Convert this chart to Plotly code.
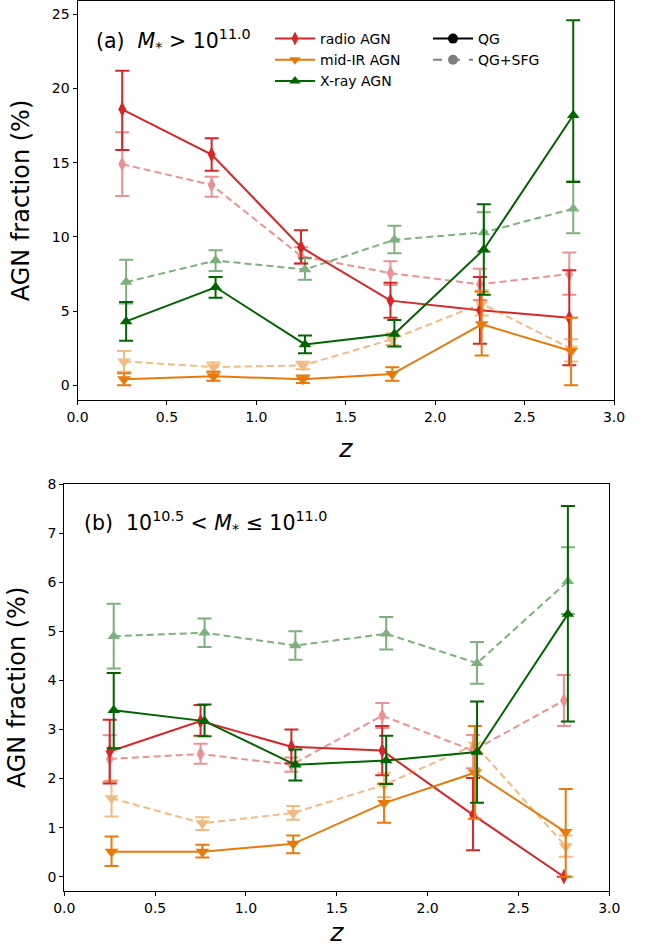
import plotly.graph_objects as go

z_bins = [0.25, 0.75, 1.25, 1.75, 2.25, 2.75]
offsets = {"radio": 0.0, "midir": 0.01, "xray": 0.022}

# ---- panel (a): M* > 10^11.0 ----
a_radio_qg = [18.6, 15.55, 9.3, 5.7, 5.05, 4.55]
a_radio_qg_up = [2.6, 1.1, 1.15, 1.2, 2.25, 3.2]
a_radio_qg_lo = [2.75, 1.1, 1.1, 1.15, 2.25, 3.2]
a_radio_all = [14.9, 13.5, 8.7, 7.55, 6.8, 7.5]
a_radio_all_up = [2.15, 0.55, 0.6, 0.8, 1.05, 1.45]
a_radio_all_lo = [2.15, 0.8, 0.5, 0.8, 1.05, 1.4]

a_mir_qg = [0.4, 0.6, 0.4, 0.75, 4.1, 2.3]
a_mir_qg_up = [0.4, 0.3, 0.25, 0.45, 2.2, 2.25]
a_mir_qg_lo = [0.4, 0.3, 0.25, 0.45, 2.1, 2.3]
a_mir_all = [1.6, 1.22, 1.33, 3.1, 5.5, 2.45]
a_mir_all_up = [0.7, 0.3, 0.25, 0.4, 0.9, 0.65]
a_mir_all_lo = [0.7, 0.3, 0.25, 0.4, 0.8, 0.85]

a_xr_qg = [4.3, 6.6, 2.75, 3.45, 9.15, 18.2]
a_xr_qg_up = [1.3, 0.7, 0.6, 0.95, 3.05, 6.4]
a_xr_qg_lo = [1.3, 0.7, 0.6, 0.85, 3.05, 4.5]
a_xr_all = [6.95, 8.4, 7.8, 9.8, 10.3, 11.9]
a_xr_all_up = [1.5, 0.7, 0.75, 0.95, 1.35, 1.85]
a_xr_all_lo = [1.45, 0.7, 0.7, 0.9, 1.3, 1.65]

# ---- panel (b): 10^10.5 < M* <= 10^11.0 ----
b_radio_qg = [2.55, 3.17, 2.65, 2.57, 1.26, 0.0]
b_radio_qg_up = [0.65, 0.33, 0.35, 0.5, 0.75, 0.0]
b_radio_qg_lo = [0.65, 0.3, 0.34, 0.5, 0.72, 0.0]
b_radio_all = [2.4, 2.5, 2.28, 3.28, 2.57, 3.59]
b_radio_all_up = [0.48, 0.21, 0.15, 0.26, 0.32, 0.52]
b_radio_all_lo = [0.46, 0.2, 0.14, 0.25, 0.36, 0.52]

b_mir_qg = [0.51, 0.51, 0.67, 1.5, 2.12, 0.91]
b_mir_qg_up = [0.31, 0.14, 0.17, 0.39, 0.95, 0.88]
b_mir_qg_lo = [0.29, 0.12, 0.19, 0.4, 0.94, 0.91]
b_mir_all = [1.6, 1.09, 1.3, 1.87, 2.69, 0.62]
b_mir_all_up = [0.36, 0.12, 0.14, 0.25, 0.38, 0.22]
b_mir_all_lo = [0.37, 0.14, 0.14, 0.25, 0.51, 0.21]

b_xr_qg = [3.39, 3.17, 2.28, 2.37, 2.54, 5.35]
b_xr_qg_up = [0.76, 0.34, 0.31, 0.5, 1.03, 2.2]
b_xr_qg_lo = [0.77, 0.31, 0.32, 0.48, 1.03, 2.19]
b_xr_all = [4.9, 4.97, 4.71, 4.95, 4.35, 6.02]
b_xr_all_up = [0.66, 0.29, 0.29, 0.34, 0.43, 0.69]
b_xr_all_lo = [0.66, 0.29, 0.29, 0.32, 0.42, 0.67]

RED = "#d62728"
ORANGE = "#e87a0c"
GREEN = "#006400"

fig = go.Figure()


def add_series(xa, ya, key, y, up, lo, color, symbol, dashed, msize):
    xs = [z + offsets[key] for z in z_bins]
    fig.add_trace(go.Scatter(
        x=xs, y=y, xaxis=xa, yaxis=ya, mode="lines+markers",
        line=dict(color=color, width=2, dash="7px,4px" if dashed else "solid"),
        marker=dict(symbol=symbol, size=msize, color=color),
        error_y=dict(type="data", symmetric=False, array=up, arrayminus=lo,
                     color=color, thickness=2, width=7),
        opacity=0.5 if dashed else 1.0,
        showlegend=False, hoverinfo="skip",
    ))


panels = [
    ("x", "y",
     [(a_radio_all, a_radio_all_up, a_radio_all_lo, a_radio_qg, a_radio_qg_up, a_radio_qg_lo, "radio", RED, "diamond-tall", 11),
      (a_mir_all, a_mir_all_up, a_mir_all_lo, a_mir_qg, a_mir_qg_up, a_mir_qg_lo, "midir", ORANGE, "triangle-down", 12),
      (a_xr_all, a_xr_all_up, a_xr_all_lo, a_xr_qg, a_xr_qg_up, a_xr_qg_lo, "xray", GREEN, "triangle-up", 11)]),
    ("x2", "y2",
     [(b_radio_all, b_radio_all_up, b_radio_all_lo, b_radio_qg, b_radio_qg_up, b_radio_qg_lo, "radio", RED, "diamond-tall", 11),
      (b_mir_all, b_mir_all_up, b_mir_all_lo, b_mir_qg, b_mir_qg_up, b_mir_qg_lo, "midir", ORANGE, "triangle-down", 12),
      (b_xr_all, b_xr_all_up, b_xr_all_lo, b_xr_qg, b_xr_qg_up, b_xr_qg_lo, "xray", GREEN, "triangle-up", 11)]),
]

for xa, ya, series in panels:
    for (ya_, yu, yl, yq, yqu, yql, key, color, sym, ms) in series:
        add_series(xa, ya, key, ya_, yu, yl, color, sym, True, ms)
        add_series(xa, ya, key, yq, yqu, yql, color, sym, False, ms)

# legend entries
legend_items = [("radio AGN", RED, "diamond-tall", "solid", 1.0, "legend"),
                ("mid-IR AGN", ORANGE, "triangle-down", "solid", 1.0, "legend"),
                ("X-ray AGN", GREEN, "triangle-up", "solid", 1.0, "legend"),
                ("QG", "black", "circle", "solid", 1.0, "legend2"),
                ("QG+SFG", "black", "circle", "dash", 0.5, "legend2")]
for name, color, sym, dash, op, lg in legend_items:
    fig.add_trace(go.Scatter(
        x=[None], y=[None], xaxis="x", yaxis="y", mode="lines+markers", name=name,
        line=dict(color=color, width=2, dash=dash),
        marker=dict(symbol=sym, size=10, color=color),
        opacity=op, legend=lg, showlegend=True,
    ))

W, H = 654, 947
axis_common = dict(showline=True, linecolor="black", linewidth=1, mirror=True,
                   ticks="outside", ticklen=4, tickcolor="black", showgrid=False,
                   zeroline=False, tickfont=dict(size=14, color="black"),
                   automargin=False)

fig.update_layout(
    width=W, height=H,
    margin=dict(l=0, r=0, t=0, b=0),
    paper_bgcolor="white", plot_bgcolor="white",
    font=dict(family="DejaVu Sans", color="black"),
    xaxis=dict(domain=[77.5 / W, 614 / W], anchor="y", range=[0, 3],
               tickvals=[0, 0.5, 1, 1.5, 2, 2.5, 3],
               ticktext=["0.0", "0.5", "1.0", "1.5", "2.0", "2.5", "3.0"],
               title=dict(text="<i>z</i>", font=dict(size=25)), **axis_common),
    yaxis=dict(domain=[1 - 400 / H, 1 - 1 / H], anchor="x", range=[-1.0, 25.9],
               tickvals=[0, 5, 10, 15, 20, 25],
               title=dict(text="AGN fraction (%)", font=dict(size=24)), **axis_common),
    xaxis2=dict(domain=[64.3 / W, 609.3 / W], anchor="y2", range=[0, 3],
                tickvals=[0, 0.5, 1, 1.5, 2, 2.5, 3],
                ticktext=["0.0", "0.5", "1.0", "1.5", "2.0", "2.5", "3.0"],
                title=dict(text="<i>z</i>", font=dict(size=25)), **axis_common),
    yaxis2=dict(domain=[1 - 891 / H, 1 - 484 / H], anchor="x2", range=[-0.29, 8.0],
                tickvals=list(range(0, 9)),
                title=dict(text="AGN fraction (%)", font=dict(size=24)), **axis_common),
    legend=dict(x=270 / W, y=1 - 23 / H, xanchor="left", yanchor="top",
                bgcolor="rgba(0,0,0,0)", font=dict(size=14), tracegroupgap=0,
                itemwidth=40),
    legend2=dict(x=428 / W, y=1 - 23 / H, xanchor="left", yanchor="top",
                 bgcolor="rgba(0,0,0,0)", font=dict(size=14), tracegroupgap=0,
                 itemwidth=40),
    annotations=[
        dict(text="(a)  <i>M</i><sub>*</sub> > 10<sup>11.0</sup>", xref="paper", yref="paper",
             x=94 / W, y=1 - 40 / H, xanchor="left", yanchor="middle",
             showarrow=False, font=dict(size=20.5)),
        dict(text="(b)  10<sup>10.5</sup> < <i>M</i><sub>*</sub> ≤ 10<sup>11.0</sup>", xref="paper", yref="paper",
             x=82 / W, y=1 - 522 / H, xanchor="left", yanchor="middle",
             showarrow=False, font=dict(size=20.5)),
    ],
)

fig.write_html("out.html")
